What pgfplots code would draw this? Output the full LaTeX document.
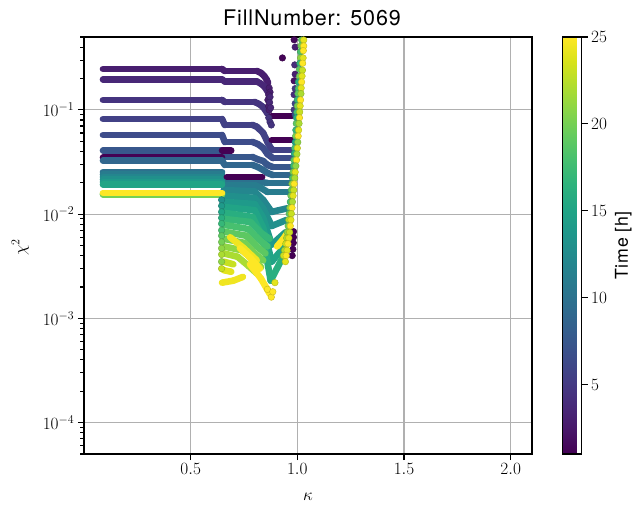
\documentclass[border=0pt]{standalone}
\usepackage{pgfplots}
\pgfplotsset{compat=1.18}
\usepackage{fontspec}
\newfontfamily\heros[LetterSpace=4]{TeX Gyre Heros}
\definecolor{gridgray}{HTML}{B0B0B0}
\newcommand\ticksize{\fontsize{17.7bp}{20bp}\selectfont}
\pgfplotsset{
  strand/.style={mesh, no marks, line width=6.6bp, line cap=round, line join=round, point meta=explicit},
  dots/.style={scatter, only marks, mark=*, mark size=3.3bp, scatter src=explicit},
}
\begin{document}
\begin{tikzpicture}
\path[use as bounding box] (0,0) rectangle (632bp,507bp);
\begin{axis}[
  at={(84bp,53bp)}, anchor=south west,
  width=448bp, height=417bp, scale only axis,
  xmin=0, xmax=2.1, ymode=log, ymin=5e-5, ymax=0.5,
  xtick={0.5,1.0,1.5,2.0},
  xticklabel style={/pgf/number format/fixed, /pgf/number format/fixed zerofill, /pgf/number format/precision=1},
  tick label style={font=\ticksize},
  tick align=outside, tick pos=left,
  major tick length=6.2bp, minor tick length=3.5bp,
  every tick/.style={black, line width=1.1bp},
  axis line style={line width=1.2bp},
  grid=major, major grid style={color=gridgray, line width=1.2bp},
  xlabel={$\kappa$}, ylabel={$\chi^2$},
  every axis x label/.style={at={(axis description cs:0.5,-0.103)}, anchor=center, font=\ticksize},
  every axis y label/.style={at={(axis description cs:-0.142,0.496)}, rotate=90, anchor=center, font=\ticksize},
  title={FillNumber: 5069},
  every axis title/.style={at={(axis description cs:0.5,1)}, anchor=base, yshift=12bp, xshift=4bp, font=\heros\fontsize{21.5bp}{25bp}\selectfont},
  colormap/viridis,
  point meta min=1, point meta max=25,
  colorbar,
  colorbar style={
    at={(parent axis.north east)}, anchor=north west, xshift=22bp,
    width=19bp, height=417bp, scale only axis,
    ymode=normal, grid=none,
    ytick={5,10,15,20,25},
    ytick pos=right, yticklabel pos=right,
    tick align=outside, major tick length=6.2bp,
    every tick/.style={black, line width=1.1bp},
    axis line style={line width=1.1bp},
    yticklabel style={font=\ticksize},
    ylabel={Time [h]},
    every axis y label/.style={at={(axis description cs:3.2,0.5)}, rotate=90, anchor=center, inner sep=0pt, font=\heros\ticksize},
  },
]

% early fits, hours 2-9
\addplot[strand] table[meta index=2] {
0.089 0.2466 2.9
0.647 0.2466 2.9
0.660 0.236 2.9
0.811 0.236 2.9
0.830 0.226 2.9
0.845 0.211 2.9
0.857 0.194 2.9
0.863 0.181 2.9
};
\addplot[dots] table[meta index=2] {
0.868 0.162 2.9
0.872 0.148 2.9
0.866 0.139 2.9
0.862 0.1245 2.9
0.865 0.109 2.9
0.868 0.0997 2.9
};
\addplot[strand] table[meta index=2] {
0.089 0.196 3.6
0.647 0.196 3.6
0.660 0.187 3.6
0.811 0.187 3.6
0.830 0.178 3.6
0.845 0.168 3.6
0.857 0.155 3.6
0.865 0.145 3.6
};
\addplot[dots] table[meta index=2] {
0.872 0.133 3.6
0.870 0.118 3.6
0.875 0.105 3.6
};
\addplot[strand] table[meta index=2] {
0.089 0.1245 4.6
0.647 0.1245 4.6
0.660 0.119 4.6
0.800 0.119 4.6
0.820 0.114 4.6
0.838 0.107 4.6
0.850 0.0997 4.6
0.860 0.092 4.6
};
\addplot[dots] table[meta index=2] {
0.866 0.084 4.6
0.872 0.0765 4.6
0.878 0.0716 4.6
};
\addplot[strand] table[meta index=2] {
0.089 0.0817 5.6
0.647 0.0817 5.6
0.660 0.0716 5.6
0.790 0.0716 5.6
0.810 0.0690 5.6
0.840 0.0600 5.6
0.860 0.0492 5.6
0.875 0.0431 5.6
0.885 0.0412 5.6
0.970 0.0412 5.6
};
\addplot[strand] table[meta index=2] {
0.089 0.0574 6.5
0.647 0.0574 6.5
0.660 0.0492 6.5
0.790 0.0492 6.5
0.815 0.0470 6.5
0.840 0.0431 6.5
0.860 0.0377 6.5
0.885 0.0345 6.5
0.970 0.0345 6.5
};
\addplot[strand] table[meta index=2] {
0.089 0.0406 7.5
0.647 0.0406 7.5
0.660 0.0353 7.5
0.790 0.0353 7.5
0.815 0.0335 7.5
0.840 0.0323 7.5
0.860 0.0296 7.5
0.885 0.0283 7.5
0.970 0.0283 7.5
};
\addplot[strand] table[meta index=2] {
0.089 0.0350 1.0
0.647 0.0350 1.0
};
\addplot[strand] table[meta index=2] {
0.089 0.0325 8.9
0.647 0.0325 8.9
0.660 0.0296 8.9
0.790 0.0296 8.9
0.815 0.0283 8.9
0.840 0.0265 8.9
0.860 0.0248 8.9
0.885 0.0237 8.9
0.970 0.0237 8.9
};

% hours 10-16: flat part, then the drop
\addplot[strand] table[meta index=2] {
0.089 0.0253 10
0.647 0.0253 10
};
\addplot[strand] table[meta index=2] {
0.660 0.0212 10
0.800 0.0212 10
0.830 0.0203 10
0.860 0.0199 10
0.965 0.0199 10
};
\addplot[strand] table[meta index=2] {
0.089 0.0240 11
0.647 0.0240 11
};
\addplot[strand] table[meta index=2] {
0.660 0.0190 11
0.800 0.0190 11
0.830 0.0178 11
0.860 0.0163 11
0.960 0.0163 11
};
\addplot[strand] table[meta index=2] {
0.089 0.0227 12
0.647 0.0227 12
};
\addplot[strand] table[meta index=2] {
0.655 0.0170 12
0.800 0.0165 12
0.840 0.0137 12
0.880 0.0105 12
0.955 0.0114 12
};
\addplot[strand] table[meta index=2] {
0.089 0.0215 13
0.647 0.0215 13
};
\addplot[strand] table[meta index=2] {
0.655 0.0150 13
0.800 0.0143 13
0.840 0.0114 13
0.880 0.0077 13
0.950 0.0088 13
};
\addplot[strand] table[meta index=2] {
0.089 0.0203 14
0.647 0.0203 14
};
\addplot[strand] table[meta index=2] {
0.655 0.0131 14
0.800 0.0125 14
0.840 0.0092 14
0.880 0.0051 14
0.945 0.0067 14
};
\addplot[strand] table[meta index=2] {
0.089 0.0192 15
0.647 0.0192 15
};
\addplot[strand] table[meta index=2] {
0.655 0.0117 15
0.800 0.0109 15
0.840 0.0074 15
0.880 0.0035 15
0.940 0.0049 15
};
\addplot[strand] table[meta index=2] {
0.089 0.0156 16
0.647 0.0156 16
};
\addplot[strand] table[meta index=2] {
0.655 0.0103 16
0.790 0.0094 16
0.840 0.0059 16
0.875 0.0023 16
0.930 0.0038 16
};

% hours 17-24
\addplot[strand] table[meta index=2] {
0.089 0.0154 20
0.647 0.0154 20
};
\addplot[strand] table[meta index=2] {
0.655 0.0090 17
0.780 0.0084 17
0.830 0.0066 17
0.870 0.0058 17
};
\addplot[strand] table[meta index=2] {
0.655 0.0079 18
0.770 0.0072 18
0.820 0.0057 18
0.860 0.0049 18
};
\addplot[strand] table[meta index=2] {
0.655 0.0068 19
0.760 0.0062 19
0.810 0.0049 19
0.850 0.0042 19
};
\addplot[strand] table[meta index=2] {
0.655 0.0058 20
0.750 0.0053 20
0.800 0.0042 20
0.840 0.0036 20
};
\addplot[strand] table[meta index=2] {
0.655 0.0049 21
0.740 0.0045 21
0.790 0.0037 21
0.830 0.0031 21
};
\addplot[strand] table[meta index=2] {
0.655 0.0042 22
0.720 0.0039 22
0.770 0.0032 22
0.810 0.0027 22
};
\addplot[strand] table[meta index=2] {
0.655 0.0035 23
0.700 0.0033 23
};
\addplot[strand] table[meta index=2] {
0.655 0.0029 24
0.690 0.0028 24
};
\addplot[dots] table[meta index=2] {
0.645 0.0137 13
0.645 0.0120 14
0.645 0.0105 15
0.645 0.0092 16
0.645 0.0081 17
0.645 0.0070 18
0.645 0.0062 19
0.645 0.0054 20
0.645 0.0047 21
0.645 0.0041 22
0.645 0.0035 21
0.645 0.0030 23
};

% first-hour fits
\addplot[strand] table[meta index=2] {
0.880 0.0873 1.0
0.975 0.0873 1.0
};
\addplot[strand] table[meta index=2] {
0.880 0.0514 1.0
0.975 0.0514 1.0
};
\addplot[strand] table[meta index=2] {
0.647 0.0406 1.0
0.690 0.0406 1.0
};
\addplot[strand] table[meta index=2] {
0.670 0.0227 1.0
0.835 0.0227 1.0
};
\addplot[dots] table[meta index=2] {
0.930 0.315 1.2
0.985 0.470 1.5
0.990 0.400 3.0
0.988 0.270 4.0
0.990 0.220 3.0
0.985 0.190 2.0
0.990 0.160 5.0
0.985 0.140 4.0
0.990 0.115 6.0
0.985 0.100 5.0
0.990 0.090 7.0
0.982 0.0068 1.0
0.982 0.0060 1.0
0.981 0.0053 1.0
0.979 0.0046 1.0
0.976 0.0040 1.0
};

% steep branch near kappa = 1
\addplot[dots] table[meta index=2] {
1.020 0.468 19
1.017 0.410 20
1.015 0.360 18
1.015 0.315 21
1.012 0.280 17
1.010 0.245 19
1.010 0.210 20
1.005 0.185 16
1.005 0.160 18
1.003 0.143 19
1.000 0.125 17
1.000 0.109 20
0.998 0.095 18
0.996 0.084 16
0.995 0.074 19
0.993 0.064 17
0.992 0.056 20
0.990 0.049 15
0.988 0.043 18
0.986 0.038 16
0.984 0.033 19
0.982 0.029 17
0.980 0.0253 20
0.977 0.0222 18
0.975 0.0195 21
0.972 0.0170 19
0.970 0.0150 20
0.967 0.0131 18
0.965 0.0115 21
0.962 0.0101 19
0.960 0.0088 22
0.957 0.0077 20
0.953 0.0067 21
0.950 0.0059 22
0.946 0.0052 23
0.940 0.0045 22
0.935 0.0040 23
};

% last hours
\addplot[strand] table[meta index=2] {
0.685 0.0060 24.5
0.750 0.0047 24.5
0.810 0.0036 24.5
};
\addplot[strand] table[meta index=2] {
0.731 0.0047 25
0.780 0.0038 25
0.825 0.0030 25
};
\addplot[strand] table[meta index=2] {
0.778 0.0033 25
0.830 0.0024 25
0.872 0.0017 25
};
\addplot[strand] table[meta index=2] {
0.647 0.0022 24.5
0.700 0.0023 24.5
0.745 0.0025 24.5
};
\addplot[strand] table[meta index=2] {
0.905 0.0049 25
0.935 0.0058 25
0.962 0.0070 25
};
\addplot[strand] table[meta index=2] {
0.089 0.0160 25
0.647 0.0160 25
};
\addplot[dots] table[meta index=2] {
0.860 0.0019 25
0.878 0.0016 25
0.885 0.0018 25
0.895 0.0022 24
1.030 0.468 24
1.030 0.410 25
1.028 0.370 25
1.027 0.315 24
1.025 0.280 25
1.024 0.240 23
1.022 0.211 24
1.020 0.185 25
1.018 0.162 24
1.017 0.143 22
1.015 0.1245 25
1.013 0.109 24
1.011 0.0955 23
1.010 0.084 25
1.008 0.074 22
1.006 0.064 24
1.004 0.056 25
1.002 0.049 21
1.000 0.043 24
0.998 0.0377 22
0.996 0.033 25
0.993 0.029 21
0.990 0.0253 24
0.988 0.0222 22
0.985 0.0195 25
0.983 0.0170 23
0.980 0.0150 24
0.977 0.0131 22
0.975 0.0115 25
0.972 0.0101 23
0.970 0.0088 24
0.967 0.0077 25
0.964 0.0067 23
0.960 0.0059 24
0.956 0.0052 25
0.952 0.0045 24
0.948 0.0040 25
0.944 0.0035 24
};
\end{axis}
\end{tikzpicture}
\end{document}
